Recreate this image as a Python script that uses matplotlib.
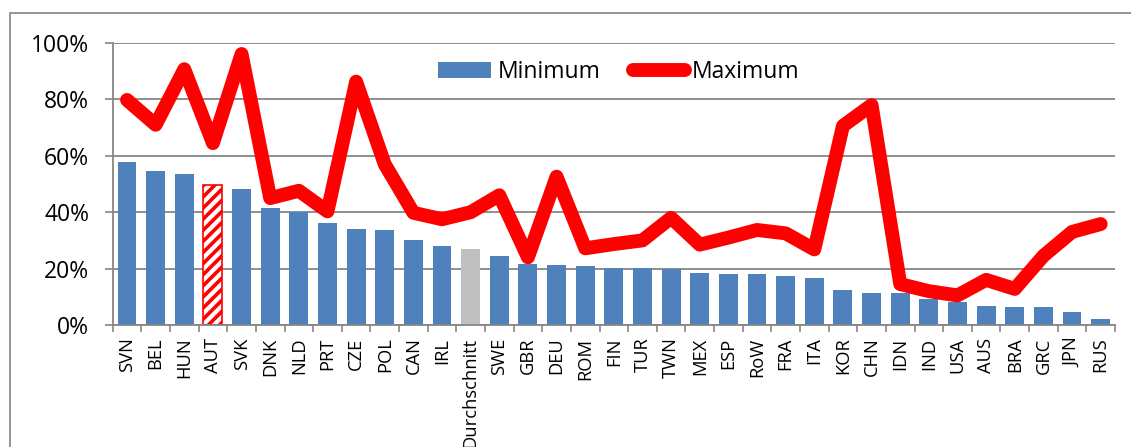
import matplotlib
matplotlib.use("Agg")
import matplotlib.pyplot as plt
from matplotlib.patches import Rectangle
from matplotlib.lines import Line2D
from matplotlib.ticker import FixedLocator, PercentFormatter
import numpy as np

plt.rcParams['font.family'] = ['Open Sans', 'DejaVu Sans']
plt.rcParams['hatch.linewidth'] = 2.6

categories = ["SVN", "BEL", "HUN", "AUT", "SVK", "DNK", "NLD", "PRT", "CZE", "POL",
              "CAN", "IRL", "Durchschnitt", "SWE", "GBR", "DEU", "ROM", "FIN", "TUR",
              "TWN", "MEX", "ESP", "RoW", "FRA", "ITA", "KOR", "CHN", "IDN", "IND",
              "USA", "AUS", "BRA", "GRC", "JPN", "RUS"]
minimum = [57.9, 54.7, 53.5, 49.8, 48.3, 41.4, 40.2, 36.1, 34.0, 33.8,
           30.1, 28.1, 27.0, 24.4, 21.5, 21.3, 20.8, 20.2, 20.1,
           20.0, 18.3, 18.2, 18.1, 17.3, 16.5, 12.5, 11.5, 11.2, 9.3,
           8.3, 6.9, 6.4, 6.3, 4.6, 2.1]
maximum = [79.8, 71.0, 90.7, 64.5, 96.1, 45.0, 47.6, 40.3, 86.3, 57.0,
           39.8, 37.5, 40.0, 46.0, 24.0, 52.6, 27.2, 28.7, 30.0,
           38.0, 28.5, 31.0, 33.7, 32.5, 26.8, 70.6, 78.0, 14.5, 12.0,
           10.5, 16.0, 12.8, 24.5, 33.0, 35.8]
highlight = "AUT"
average = "Durchschnitt"

BLUE = "#4F81BD"
GREY_BAR = "#BFBFBF"
RED = "#FF0000"
GRID = "#868686"

W, H = 1131, 447
fig = plt.figure(figsize=(W / 100, H / 100), dpi=100)
ax = fig.add_axes([112.7 / W, 1 - 325 / H, (1115 - 112.7) / W, (325 - 43) / H])

x = np.arange(len(categories))
bars = ax.bar(x, minimum, width=0.66, color=BLUE, zorder=2, label="Minimum")
for b, name in zip(bars, categories):
    if name == highlight:
        b.set_facecolor("white")
        b.set_edgecolor(RED)
        b.set_hatch("///")
        b.set_linewidth(1.2)
    elif name == average:
        b.set_facecolor(GREY_BAR)

ax.plot(x, maximum, color=RED, lw=10, solid_joinstyle="round",
        solid_capstyle="round", zorder=3, label="Maximum")

ax.set_xlim(-0.5, len(categories) - 0.5)
ax.set_ylim(0, 100)
ax.yaxis.set_major_locator(FixedLocator([0, 20, 40, 60, 80, 100]))
ax.yaxis.set_major_formatter(PercentFormatter(decimals=0))
ax.grid(axis="y", color=GRID, lw=1.3, zorder=1)
ax.set_axisbelow(True)

ax.set_xticks(x)
ax.set_xticklabels(categories, rotation=90, va="top", ha="center", fontsize=13.2)
ax.xaxis.set_minor_locator(FixedLocator(np.arange(-0.5, len(categories), 1.0)))
ax.tick_params(axis="x", which="major", length=0, pad=9)
ax.tick_params(axis="x", which="minor", length=5, width=1.2, color=GRID)
ax.tick_params(axis="y", which="major", length=6, width=1.2, color=GRID,
               labelsize=16.5, pad=11)

for side in ("top", "right"):
    ax.spines[side].set_visible(False)
for side in ("left", "bottom"):
    ax.spines[side].set_color(GRID)
    ax.spines[side].set_linewidth(1.3)

handles = [Rectangle((0, 0), 1, 1, facecolor=BLUE),
           Line2D([0], [0], color=RED, lw=10, solid_capstyle="round")]
ax.legend(handles, ["Minimum", "Maximum"], ncol=2, loc="center",
          bbox_to_anchor=(0.505, 0.897), frameon=False, fontsize=16.5,
          handlelength=2.3, handleheight=0.7, handletextpad=0.3,
          columnspacing=1.4)

# outer chart border
fig.add_artist(Rectangle((10 / W, -0.2), 1.2, 1.2 + (1 - 13 / H) - 1,
                         transform=fig.transFigure, fill=False,
                         edgecolor="#8C8C8C", lw=1.3))

fig.savefig("out.png", dpi=100)
